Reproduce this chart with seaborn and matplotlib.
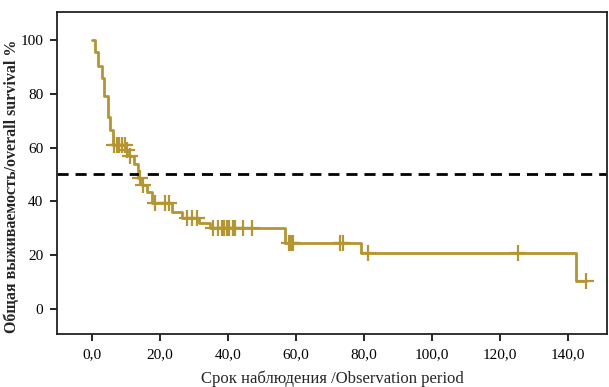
"""
Кривая общей выживаемости (Kaplan-Meier) в стиле исходного рисунка.
"""

import numpy as np
import pandas as pd
import matplotlib
matplotlib.use("Agg")
import matplotlib.pyplot as plt
import seaborn as sns

# времена событий (месяцы) и выживаемость после события, %
event_times = [0.0, 0.9, 1.8, 2.9, 3.6, 4.5, 5.3, 6.0, 9.8, 10.8, 12.3, 13.5,
               14.7, 16.2, 17.6, 23.5, 26.5, 31.5, 34.7, 56.8, 79.0, 142.4]
survival = [100.0, 95.5, 90.5, 86.0, 79.0, 71.5, 66.5, 61.0, 59.0, 57.0, 54.0,
            48.7, 46.0, 43.5, 39.5, 36.0, 34.0, 32.0, 30.0, 24.5, 20.8, 10.4]
follow_up_end = 145.3

# цензурированные наблюдения
censor_times = [6.3, 7.2, 8.0, 8.8, 9.5, 10.3, 11.2, 14.0, 15.0, 18.5, 21.5,
                22.5, 28.0, 29.4, 30.9, 35.6, 37.0, 38.2, 38.8, 39.7, 40.3,
                41.5, 42.0, 44.4, 47.0, 58.0, 58.6, 59.2, 73.0, 73.8, 81.0,
                125.4, 145.3]

x_ticks = [0, 20, 40, 60, 80, 100, 120, 140]
y_ticks = [0, 20, 40, 60, 80, 100]
median_line = 50

color = "#B5952F"

sns.set_theme(style="ticks")
plt.rcParams['font.family'] = ['Liberation Serif', 'DejaVu Serif']

# ступенчатая кривая
curve = pd.DataFrame({
    "t": event_times + [follow_up_end],
    "s": survival + [survival[-1]],
})

# значения выживаемости в момент цензурирования
idx = np.searchsorted(event_times, censor_times, side="right") - 1
censors = pd.DataFrame({
    "t": censor_times,
    "s": [survival[i] for i in idx],
})

fig = plt.figure(figsize=(6.09, 3.87), dpi=100)
ax = fig.add_axes([0.094, 0.137, 0.903, 0.832])

sns.lineplot(data=curve, x="t", y="s", ax=ax, color=color, linewidth=2.0,
             drawstyle="steps-post", estimator=None, sort=False)
sns.scatterplot(data=censors, x="t", y="s", ax=ax, marker="+", color=color,
                s=130, linewidth=1.6, zorder=3)

ax.axhline(median_line, color="black", linestyle=(0, (4, 2.5)), linewidth=2.0)

ax.set_xlim(-10.3, 151.5)
ax.set_ylim(-9.3, 110.4)
ax.set_xticks(x_ticks)
ax.set_xticklabels([f"{v:.1f}".replace(".", ",") for v in x_ticks])
ax.set_yticks(y_ticks)
ax.set_yticklabels([str(v) for v in y_ticks])

ax.tick_params(labelsize=11, length=5, width=1.2, colors="black", pad=5)
for spine in ax.spines.values():
    spine.set_linewidth(1.3)
    spine.set_color("#222222")

ax.set_xlabel("Срок наблюдения /Observation period", fontsize=12, labelpad=7)
ax.set_ylabel("Общая выживаемость/overall survival %", fontsize=11.5,
              fontweight="bold")
ax.yaxis.set_label_coords(-0.068, 0.46)

fig.savefig("out.png", dpi=100)
plt.close(fig)
